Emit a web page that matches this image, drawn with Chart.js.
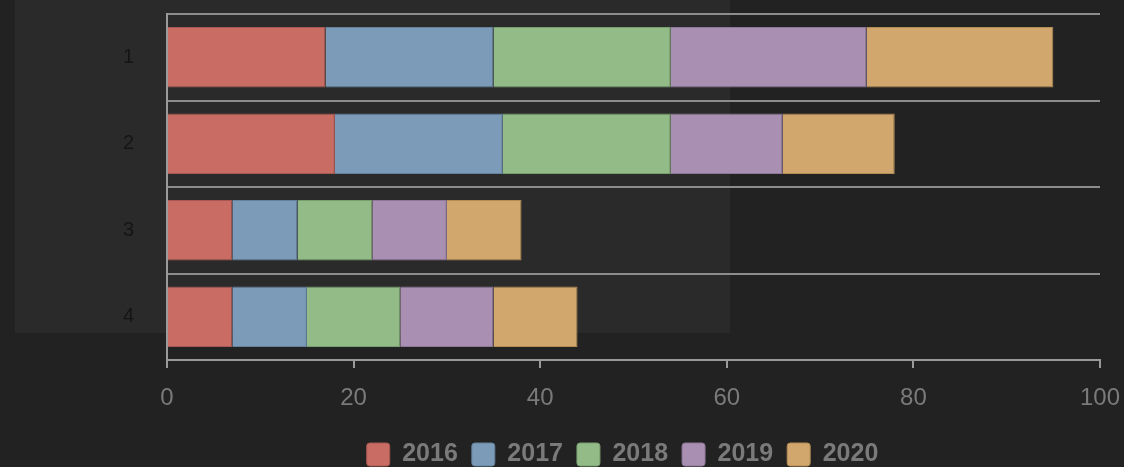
<!DOCTYPE html>
<html>
<head>
<meta charset="utf-8">
<script src="https://cdn.jsdelivr.net/npm/chart.js@4/dist/chart.umd.min.js"></script>
<style>
    html, body { margin: 0; padding: 0; background: #222222; overflow: hidden; }
    #panel { position: absolute; left: 15px; top: 0; width: 715px; height: 333px; background: #2a2a2a; }
    #wrap { position: absolute; left: 0; top: 0; width: 1124px; height: 477px; }
</style>
</head>
<body>
<div id="panel"></div>
<div id="wrap"><canvas id="chart"></canvas></div>
<script>
// categorias y series
const categories = ["1", "2", "3", "4"];
const seriesNames = ["2016", "2017", "2018", "2019", "2020"];
const values2016 = [17, 18, 7, 7];
const values2017 = [18, 18, 7, 8];
const values2018 = [19, 18, 8, 10];
const values2019 = [21, 12, 8, 10];
const values2020 = [20, 12, 8, 9];
const xTicks = [0, 20, 40, 60, 80, 100];

const fills = ['#c86c64', '#7b9bb9', '#92bb87', '#a990b2', '#d2a76d'];
const borders = ['#a85852', '#65819c', '#799f6f', '#8e7797', '#b38c56'];
const allValues = [values2016, values2017, values2018, values2019, values2020];

const datasets = seriesNames.map((name, i) => ({
    label: name,
    data: allValues[i],
    backgroundColor: fills[i],
    borderColor: borders[i],
    borderWidth: 1,
    barPercentage: 0.7,
    categoryPercentage: 1
}));

// mover un poco la leyenda a la izquierda
const legendShift = {
    id: 'legendShift',
    afterLayout(chart) {
        chart.legend.left -= 11;
        chart.legend.right -= 11;
    }
};

const ctx = document.getElementById('chart').getContext('2d');
const chart = new Chart(ctx, {
    type: 'bar',
    data: { labels: categories, datasets: datasets },
    plugins: [legendShift],
    options: {
        indexAxis: 'y',
        responsive: true,
        maintainAspectRatio: false,
        animation: false,
        layout: { padding: { top: 14, right: 24, left: 0, bottom: 0 } },
        plugins: {
            legend: {
                position: 'bottom',
                fullSize: false,
                labels: {
                    color: '#7a7a7a',
                    font: { family: 'Liberation Sans', size: 25, weight: 'bold', lineHeight: 1 },
                    boxWidth: 23,
                    boxHeight: 23,
                    padding: 14,
                    useBorderRadius: true,
                    borderRadius: 3
                }
            },
            tooltip: { enabled: false }
        },
        scales: {
            x: {
                stacked: true,
                min: 0,
                max: 100,
                afterBuildTicks: scale => { scale.ticks = xTicks.map(v => ({ value: v })); },
                afterFit: scale => {
                    scale.height = 68;
                    scale.paddingLeft = 0;
                    scale.paddingRight = 0;
                },
                grid: { drawOnChartArea: false, color: '#9a9a9a', lineWidth: 2, tickLength: 8 },
                border: { color: '#9a9a9a', width: 2 },
                ticks: {
                    color: '#7a7a7a',
                    padding: 16,
                    maxRotation: 0,
                    font: { family: 'Liberation Sans', size: 24 }
                }
            },
            y: {
                stacked: true,
                afterFit: scale => {
                    scale.width = 167;
                    scale.paddingTop = 0;
                    scale.paddingBottom = 0;
                },
                grid: { offset: true, drawTicks: false, color: '#8c8c8c', lineWidth: 2 },
                border: { color: '#9a9a9a', width: 2 },
                ticks: {
                    color: '#151515',
                    padding: 33,
                    font: { family: 'Liberation Sans', size: 20 }
                }
            }
        }
    }
});
</script>
</body>
</html>
